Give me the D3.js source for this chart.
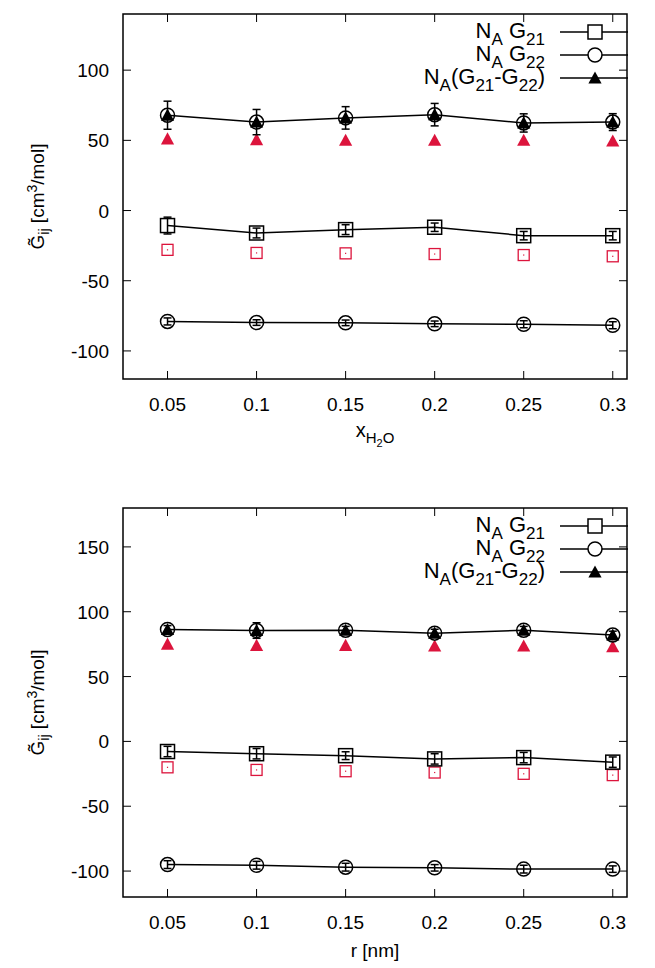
<!DOCTYPE html>
<html><head><meta charset="utf-8">
<script src="https://cdn.jsdelivr.net/npm/d3@7"></script>
<style>body{margin:0;background:#fff}svg{font-family:"Liberation Sans",Arial,sans-serif}</style>
</head><body><svg id="c" width="655" height="968"></svg>
<script>
const xVals=[0.05,0.1,0.15,0.2,0.25,0.3];
const xTicks=[0.05,0.1,0.15,0.2,0.25,0.3];
// top panel
const topDiff=[67.9,63,66,68.3,62.4,63], topDiffErr=[10,9,8,8,6.5,6];
const topDiffRed=[51,50.5,50,50,50,49.5];
const topG21=[-10.7,-16,-13.6,-11.9,-17.9,-17.9], topG21Err=[6,3.5,3.5,3,3,3];
const topG21Red=[-28,-30.2,-30.5,-31,-31.7,-32.6];
const topG22=[-79,-79.8,-80,-80.7,-81,-81.7], topG22Err=[2.5,2,2,2,2.5,2.5];
const topYTicks=[-100,-50,0,50,100];
// bottom panel
const botDiff=[86.3,85.5,85.7,83.5,85.7,82], botDiffErr=[3,6,3,3,3,3];
const botDiffRed=[75,74,74,73.5,73.5,73];
const botG21=[-7.8,-9.5,-11,-13.5,-12.5,-16], botG21Err=[4,4,3,4,4,4];
const botG21Red=[-20,-22,-23,-24,-25,-26];
const botG22=[-95,-95.5,-97,-97.5,-98.5,-98.5], botG22Err=[3,3,3,2.5,3,2.5];
const botYTicks=[-100,-50,0,50,100,150];
const legendLabels=[["N","A"," G","21"],["N","A"," G","22"]];
const red="#dc143c";
const svg=d3.select("#c");

function panel(o){
  const L=123,R=627,T=o.top,B=o.bottom;
  const x=d3.scaleLinear().domain([0.025,0.308]).range([L,R]);
  const y=d3.scaleLinear().domain(o.ydom).range([B,T]);
  const g=svg.append("g");
  g.append("rect").attr("x",L).attr("y",T).attr("width",R-L).attr("height",B-T).attr("fill","none").attr("stroke","#000").attr("stroke-width",1.5);
  const tk=8;
  xTicks.forEach(t=>{const X=x(t);
    g.append("line").attr("x1",X).attr("x2",X).attr("y1",B).attr("y2",B-tk).attr("stroke","#000");
    g.append("line").attr("x1",X).attr("x2",X).attr("y1",T).attr("y2",T+tk).attr("stroke","#000");
    g.append("text").attr("x",X).attr("y",B+32).attr("text-anchor","middle").attr("font-size",19).text(String(t));});
  o.yticks.forEach(t=>{const Y=y(t);
    g.append("line").attr("x1",L).attr("x2",L+tk).attr("y1",Y).attr("y2",Y).attr("stroke","#000");
    g.append("line").attr("x1",R).attr("x2",R-tk).attr("y1",Y).attr("y2",Y).attr("stroke","#000");
    g.append("text").attr("x",L-14).attr("y",Y+7).attr("text-anchor","end").attr("font-size",19).text(String(t));});
  const yl=g.append("text").attr("transform",`translate(44,${(T+B)/2}) rotate(-90)`).attr("text-anchor","middle").attr("font-size",19);
  yl.append("tspan").text("G\u0303");
  yl.append("tspan").attr("font-size",14).attr("dy",5).text("ij");
  yl.append("tspan").attr("dy",-5).text(" [cm");
  yl.append("tspan").attr("font-size",14).attr("dy",-7).text("3");
  yl.append("tspan").attr("dy",7).text("/mol]");
  o.xlabel(g,(L+R)/2,B+63);
  const line=d3.line().x((d,i)=>x(xVals[i])).y(d=>y(d));
  function errs(vals,err){vals.forEach((v,i)=>{const X=x(xVals[i]);
    g.append("line").attr("x1",X).attr("x2",X).attr("y1",y(v-err[i])).attr("y2",y(v+err[i])).attr("stroke","#000").attr("stroke-width",1.5);
    [v-err[i],v+err[i]].forEach(e=>g.append("line").attr("x1",X-4).attr("x2",X+4).attr("y1",y(e)).attr("y2",y(e)).attr("stroke","#000").attr("stroke-width",1.5));});}
  const tri=(cx,cy,s,col)=>g.append("path").attr("d",`M${cx},${cy-s*0.6}L${cx+s*0.6},${cy+s*0.5}L${cx-s*0.6},${cy+s*0.5}Z`).attr("fill",col);
  o.diffRed.forEach((v,i)=>tri(x(xVals[i]),y(v),11,red));
  o.g21Red.forEach((v,i)=>{const X=x(xVals[i]),Y=y(v);
    g.append("rect").attr("x",X-5.5).attr("y",Y-5.5).attr("width",11).attr("height",11).attr("fill","none").attr("stroke",red).attr("stroke-width",1.3);
    g.append("rect").attr("x",X-0.6).attr("y",Y-0.6).attr("width",1.2).attr("height",1.2).attr("fill",red);});
  [[o.g21,o.g21Err],[o.g22,o.g22Err],[o.diff,o.diffErr]].forEach(([v,e])=>{
    g.append("path").attr("d",line(v)).attr("fill","none").attr("stroke","#000").attr("stroke-width",1.5);errs(v,e);});
  o.g21.forEach((v,i)=>g.append("rect").attr("x",x(xVals[i])-7).attr("y",y(v)-7).attr("width",14).attr("height",14).attr("fill","none").attr("stroke","#000").attr("stroke-width",1.5));
  o.g22.forEach((v,i)=>g.append("circle").attr("cx",x(xVals[i])).attr("cy",y(v)).attr("r",7).attr("fill","none").attr("stroke","#000").attr("stroke-width",1.5));
  o.diff.forEach((v,i)=>{g.append("circle").attr("cx",x(xVals[i])).attr("cy",y(v)).attr("r",7).attr("fill","none").attr("stroke","#000").attr("stroke-width",1.5);tri(x(xVals[i]),y(v),11,"#000");});
  const ly=[T+18,T+41,T+64];
  ly.forEach((Y,k)=>{g.append("line").attr("x1",560).attr("x2",628).attr("y1",Y).attr("y2",Y).attr("stroke","#000").attr("stroke-width",1.5);});
  g.append("rect").attr("x",588).attr("y",ly[0]-7).attr("width",14).attr("height",14).attr("fill","white").attr("stroke","#000").attr("stroke-width",1.5);
  g.append("circle").attr("cx",595).attr("cy",ly[1]).attr("r",7).attr("fill","white").attr("stroke","#000").attr("stroke-width",1.5);
  tri(595,ly[2],11,"#000");
  legendLabels.forEach((lab,k)=>{const t=g.append("text").attr("x",545).attr("y",ly[k]+6).attr("text-anchor","end").attr("font-size",22);
    t.append("tspan").text(lab[0]);t.append("tspan").attr("font-size",17).attr("dy",7).text(lab[1]);
    t.append("tspan").attr("dy",-7).text(lab[2]);t.append("tspan").attr("font-size",17).attr("dy",7).text(lab[3]);});
  const t=g.append("text").attr("x",545).attr("y",ly[2]+6).attr("text-anchor","end").attr("font-size",22);
  t.append("tspan").text("N");t.append("tspan").attr("font-size",17).attr("dy",7).text("A");
  t.append("tspan").attr("dy",-7).text("(G");t.append("tspan").attr("font-size",17).attr("dy",7).text("21");
  t.append("tspan").attr("dy",-7).text("-G");t.append("tspan").attr("font-size",17).attr("dy",7).text("22");
  t.append("tspan").attr("dy",-7).text(")");
}
panel({top:14,bottom:379,ydom:[-120,140],yticks:topYTicks,diff:topDiff,diffErr:topDiffErr,diffRed:topDiffRed,
  g21:topG21,g21Err:topG21Err,g21Red:topG21Red,g22:topG22,g22Err:topG22Err,
  xlabel:(g,cx,cy)=>{const t=g.append("text").attr("x",cx).attr("y",cy-5).attr("text-anchor","middle").attr("font-size",20);
    t.append("tspan").text("x");t.append("tspan").attr("font-size",15).attr("dy",6).text("H");
    t.append("tspan").attr("font-size",11).attr("dy",4).text("2");t.append("tspan").attr("font-size",15).attr("dy",-4).text("O");}});
panel({top:508,bottom:897,ydom:[-120,180],yticks:botYTicks,diff:botDiff,diffErr:botDiffErr,diffRed:botDiffRed,
  g21:botG21,g21Err:botG21Err,g21Red:botG21Red,g22:botG22,g22Err:botG22Err,
  xlabel:(g,cx,cy)=>{g.append("text").attr("x",cx).attr("y",cy-3).attr("text-anchor","middle").attr("font-size",19).text("r [nm]");}});
</script></body></html>
